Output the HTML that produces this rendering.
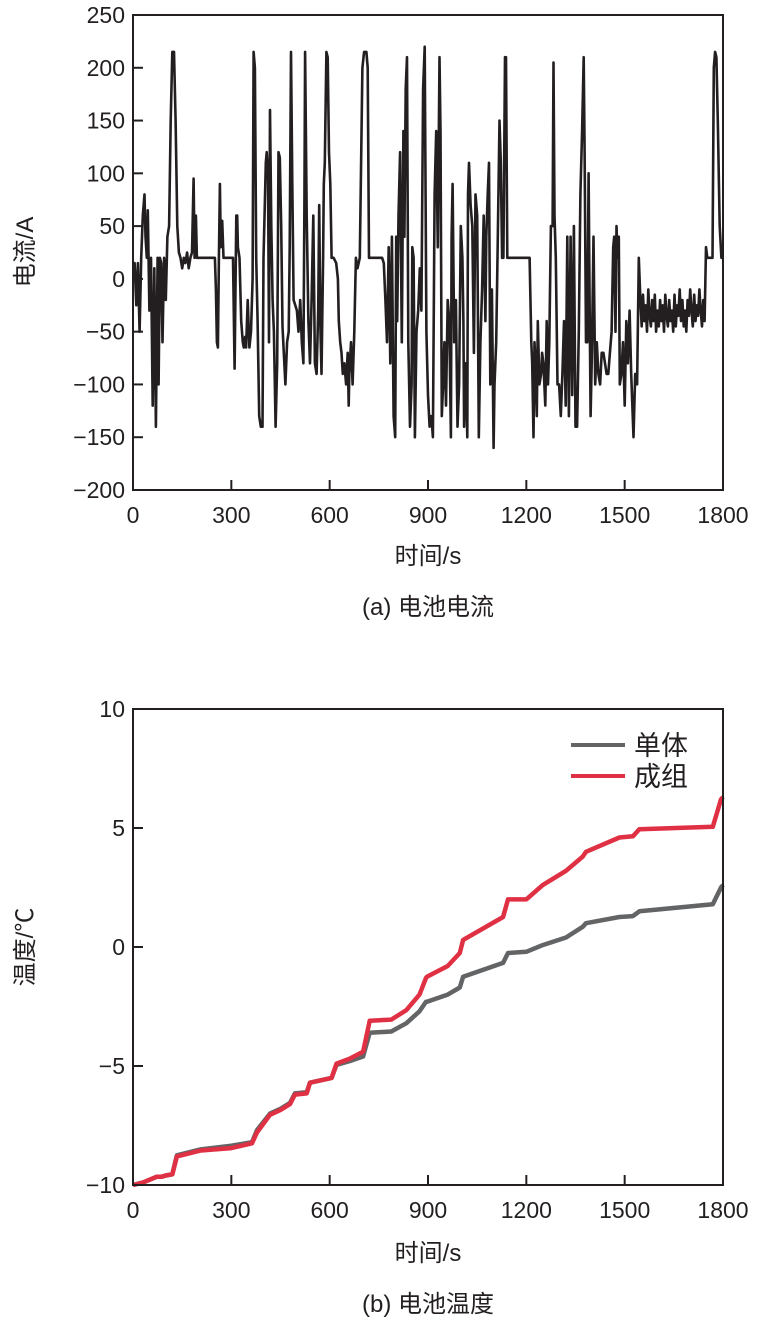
<!DOCTYPE html>
<html><head><meta charset="utf-8">
<style>
body{margin:0;background:#fff;}
svg{display:block;font-family:"Liberation Sans","Noto Sans CJK SC",sans-serif;}
</style></head>
<body>
<svg id="fig" width="771" height="1336" viewBox="0 0 771 1336">
<g id="chartA"></g>
<g id="chartB"></g>
</svg>
<script>
// ---- Chart (a) data: [time s, current A] ----
const currentPoints = [
[0,0],[5,15],[10,-25],[15,15],[20,-50],[25,20],[30,60],[35,80],[38,40],[42,20],[45,65],[50,-30],[55,20],[60,-120],[65,10],[70,-140],[75,20],[78,-100],[82,20],[86,15],[90,-60],[95,20],[100,-20],[105,40],[110,50],
[115,150],[120,215],[125,215],[130,150],[135,50],[140,25],[145,20],[150,10],[155,20],[160,15],[165,25],[170,10],[175,20],[180,25],[185,95],[188,20],[192,60],[195,20],[200,20],[250,20],
[253,-10],[256,-60],[259,-65],[262,20],[265,90],[268,30],[272,55],[276,20],[305,20],[310,-85],[315,60],[318,60],[320,30],[325,20],[330,-40],[335,-60],[338,-65],[342,-55],[345,-65],[350,-20],[355,-65],[360,-50],[365,0],
[368,215],[372,200],[376,20],[380,-40],[385,-130],[390,-140],[395,-140],[398,20],[402,70],[405,110],[408,120],[412,100],[415,-60],[418,160],[422,50],[426,-20],[430,-50],[435,-140],[440,-80],[444,120],[448,115],[452,50],[456,-45],[460,-70],[465,-100],[470,-60],[475,-50],[478,30],
[482,215],[486,90],[490,-20],[495,-25],[500,-30],[505,-50],[510,-20],[515,-60],[520,-80],[523,70],[525,215],[530,60],[535,-40],[540,-80],[545,-20],[550,60],[555,-80],[560,-90],[565,-30],[568,70],[572,-50],[575,-90],[580,20],[582,90],[585,110],
[590,215],[594,210],[598,120],[602,90],[606,20],[612,20],[620,15],[625,0],[628,-40],[632,-60],[636,-70],[640,-90],[645,-80],[650,-100],[655,-70],[658,-120],[660,-90],[665,-60],[670,-100],[675,-50],[680,20],[685,10],[692,20],
[700,200],[705,215],[712,215],[716,200],[720,20],[760,20],[765,15],[770,-20],[775,-60],[780,30],[785,-80],[790,40],[795,-130],[800,-150],[803,40],[806,-40],[810,60],[815,120],[820,-60],[825,140],[828,40],[832,180],[836,210],[840,-60],[845,-140],[850,-100],[852,30],[856,20],[860,-150],[865,-50],[870,-30],[875,10],[880,-30],[885,180],
[890,220],[895,-50],[900,-110],[905,-140],[910,-130],[915,-150],[920,80],[925,140],[930,30],[935,210],[938,140],[942,-130],[946,-100],[950,-60],[955,-120],[960,-20],[965,-40],[970,-150],[972,40],[975,90],[980,-60],[985,-20],[990,-140],[995,-100],[1000,50],
[1005,20],[1008,-40],[1010,-140],[1015,-80],[1020,-150],[1022,80],[1025,110],[1030,70],[1035,50],[1040,-70],[1045,80],[1050,60],[1055,-150],[1060,-60],[1065,-10],[1070,60],[1075,-40],[1078,40],[1082,80],[1086,110],[1090,-100],[1095,-10],[1100,-160],[1103,-100],[1108,-60],[1112,20],[1118,150],[1122,110],[1126,20],[1130,20],
[1135,210],[1138,210],[1142,20],[1210,20],[1215,-60],[1218,-80],[1222,-150],[1225,-60],[1228,-80],[1232,-130],[1235,-40],[1240,-100],[1245,-90],[1248,-70],[1252,-80],[1258,-120],[1262,-40],[1266,-100],[1270,-60],[1275,50],[1280,50],[1283,205],[1286,60],[1290,20],
[1295,-100],[1300,-100],[1305,-130],[1310,-90],[1315,-40],[1320,-120],[1325,40],[1330,-130],[1335,40],[1340,-110],[1345,50],[1350,-140],[1355,-140],[1360,-50],[1365,80],[1370,140],[1375,210],[1378,110],[1382,-60],[1386,-60],[1390,100],[1393,-20],[1396,-130],[1400,-70],
[1405,40],[1410,-100],[1415,-60],[1420,-90],[1425,-100],[1430,-70],[1435,-70],[1440,-80],[1445,-90],[1450,-90],[1455,-70],[1460,-50],[1465,30],[1468,40],[1472,-50],[1475,50],[1478,20],[1482,40],[1485,-100],[1490,-90],[1495,-60],[1500,-120],[1505,-40],[1510,-80],[1515,-30],[1520,-90],[1527,-150],[1532,-90],[1538,-100],[1543,20],
[1548,-20],[1552,-45],[1556,-15],[1560,-40],[1564,-25],[1568,-50],[1572,-10],[1576,-35],[1580,-45],[1584,-20],[1588,-40],[1592,-15],[1596,-50],[1600,-30],[1604,-45],[1608,-20],[1612,-40],[1616,-25],[1620,-50],[1624,-15],[1628,-35],[1632,-45],[1636,-20],[1640,-40],[1644,-30],[1648,-50],[1652,-15],[1656,-45],[1660,-25],[1664,-35],[1668,-10],[1672,-40],[1676,-20],[1680,-45],[1684,-30],[1688,-50],[1692,-20],[1696,-35],[1700,-10],[1704,-30],[1708,-45],[1712,-15],[1716,-40],[1720,-25],[1724,-35],[1728,-10],[1732,-30],[1736,-45],[1740,-20],[1744,-40],
[1748,30],[1752,20],[1768,20],[1772,200],[1776,215],[1780,210],[1784,150],[1790,50],[1795,20],[1800,20]
];
const aYTicks = [250,200,150,100,50,0,-50,-100,-150,-200];
const aXTicks = [0,300,600,900,1200,1500,1800];

// ---- Chart (b) data ----
const tempTimes = [0,30,73,88,100,120,134,207,300,363,378,418,450,479,494,530,540,606,621,660,702,722,788,834,874,894,897,960,997,1007,1129,1144,1200,1250,1321,1372,1382,1484,1525,1545,1769,1794,1800];
const cellTemp  = [-10,-9.9,-9.65,-9.65,-9.6,-9.55,-8.75,-8.5,-8.35,-8.2,-7.7,-7.0,-6.8,-6.55,-6.15,-6.1,-5.7,-5.5,-4.95,-4.8,-4.6,-3.6,-3.55,-3.2,-2.7,-2.3,-2.3,-2.0,-1.7,-1.25,-0.67,-0.25,-0.2,0.08,0.4,0.85,1.0,1.26,1.3,1.5,1.8,2.5,2.6];
const packTemp  = [-10,-9.9,-9.65,-9.65,-9.6,-9.55,-8.8,-8.55,-8.45,-8.25,-7.8,-7.05,-6.85,-6.6,-6.2,-6.15,-5.7,-5.5,-4.9,-4.7,-4.4,-3.1,-3.05,-2.65,-2.0,-1.3,-1.25,-0.8,-0.25,0.3,1.26,2.0,2.0,2.6,3.2,3.8,4.0,4.6,4.65,4.95,5.05,6.2,6.3];
const bYTicks = [10,5,0,-5,-10];
const bXTicks = [0,300,600,900,1200,1500,1800];

const NS = "http://www.w3.org/2000/svg";
function mk(parent, tag, attrs, text){
  const e = document.createElementNS(NS, tag);
  for (const k in attrs) e.setAttribute(k, attrs[k]);
  if (text !== undefined) e.textContent = text;
  parent.appendChild(e);
  return e;
}

function drawAxes(g, L, T, R, B, xs, ys, yTicks, xTicks, prefix){
  for (const v of yTicks){
    const y = ys(v);
    const t = mk(g,'line',{x1:L,x2:L+10,y1:y,y2:y,stroke:'#231f20','stroke-width':2});
    
    
    const lb = mk(g,'text',{x:L-8,y:y+8,'text-anchor':'end','font-size':23,fill:'#231f20'}, v<0?('\u2212'+Math.abs(v)):String(v));
    
    
  }
  for (const v of xTicks){
    const x = xs(v);
    const t = mk(g,'line',{x1:x,x2:x,y1:B,y2:B-10,stroke:'#231f20','stroke-width':2});
    
    
    const lb = mk(g,'text',{x:x,y:B+33,'text-anchor':'middle','font-size':23,fill:'#231f20'}, String(v));
    
    
  }
}

function pathFrom(xsArr, ysArr, xs, ys){
  let d = '';
  const n = Math.min(xsArr.length, ysArr.length);
  for (let i=0;i<n;i++) d += (i?'L':'M') + xs(xsArr[i]).toFixed(1) + ',' + ys(ysArr[i]).toFixed(1);
  return d;
}

// ---- Chart (a) ----
(function(){
  const g = document.getElementById('chartA');
  const L=133,R=723,T=15,B=490;
  const xs = t => L + (t/1800)*(R-L);
  const ys = v => B - (v+200)/450*(B-T);
  const clip = mk(g,'clipPath',{id:'clipA'});
  mk(clip,'rect',{x:L,y:T,width:R-L,height:B-T});
  const times = currentPoints.map(p=>p[0]);
  const vals = currentPoints.map(p=>p[1]);
  const p = mk(g,'path',{d:pathFrom(times,vals,xs,ys),fill:'none',stroke:'#231f20','stroke-width':2.6,'stroke-linejoin':'round','clip-path':'url(#clipA)'});
  
  
  const f = mk(g,'rect',{x:L,y:T,width:R-L,height:B-T,fill:'none',stroke:'#231f20','stroke-width':2});
  
  
  drawAxes(g,L,T,R,B,xs,ys,aYTicks,aXTicks,'a');
  const yt = mk(g,'text',{x:0,y:0,'text-anchor':'middle','font-size':24,fill:'#231f20',transform:'translate(33,252) rotate(-90)'},'电流/A');
  
  
  const xt = mk(g,'text',{x:428,y:564,'text-anchor':'middle','font-size':24,fill:'#231f20'},'时间/s');
  
  
  const cap = mk(g,'text',{x:428,y:615,'text-anchor':'middle','font-size':24,fill:'#231f20'},'(a) 电池电流');
  
  
})();

// ---- Chart (b) ----
(function(){
  const g = document.getElementById('chartB');
  const L=133,R=723,T=709,B=1185;
  const xs = t => L + (t/1800)*(R-L);
  const ys = v => B - (v+10)/20*(B-T);
  const p1 = mk(g,'path',{d:pathFrom(tempTimes,cellTemp,xs,ys),fill:'none',stroke:'#636466','stroke-width':4.5,'stroke-linejoin':'round'});
  
  
  const p2 = mk(g,'path',{d:pathFrom(tempTimes,packTemp,xs,ys),fill:'none',stroke:'#e03043','stroke-width':4.5,'stroke-linejoin':'round'});
  
  
  const f = mk(g,'rect',{x:L,y:T,width:R-L,height:B-T,fill:'none',stroke:'#231f20','stroke-width':2});
  
  
  drawAxes(g,L,T,R,B,xs,ys,bYTicks,bXTicks,'b');
  const l1 = mk(g,'line',{x1:571,x2:625,y1:745,y2:745,stroke:'#636466','stroke-width':4});
  
  
  const t1 = mk(g,'text',{x:634,y:755,'font-size':27,fill:'#231f20'},'单体');
  
  
  const l2 = mk(g,'line',{x1:571,x2:625,y1:776,y2:776,stroke:'#e03043','stroke-width':4});
  
  
  const t2 = mk(g,'text',{x:634,y:786,'font-size':27,fill:'#231f20'},'成组');
  
  
  const yt = mk(g,'text',{x:0,y:0,'text-anchor':'middle','font-size':24,fill:'#231f20',transform:'translate(33,947) rotate(-90)'},'温度/℃');
  
  
  const xt = mk(g,'text',{x:428,y:1261,'text-anchor':'middle','font-size':24,fill:'#231f20'},'时间/s');
  
  
  const cap = mk(g,'text',{x:428,y:1312,'text-anchor':'middle','font-size':24,fill:'#231f20'},'(b) 电池温度');
  
  
})();
</script>
</body></html>
